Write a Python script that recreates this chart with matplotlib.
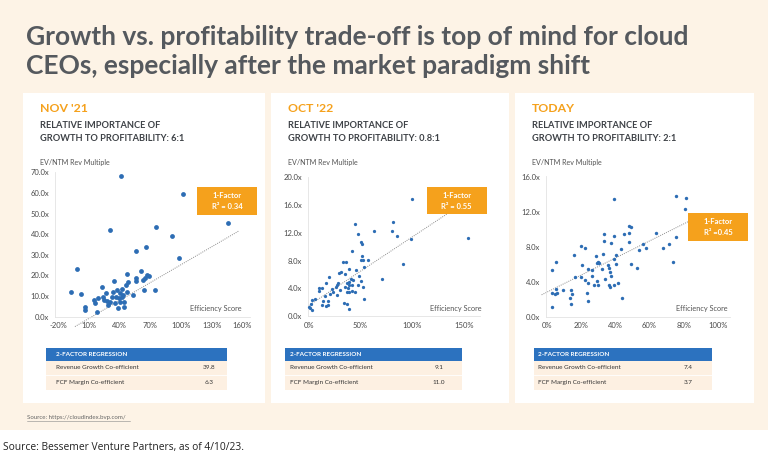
import numpy as np
import matplotlib
matplotlib.use('Agg')
import matplotlib.pyplot as plt
from matplotlib.patches import Rectangle
from matplotlib.lines import Line2D

W, H = 768, 461

title_lines = ['Growth vs. profitability trade-off is top of mind for cloud',
               'CEOs, especially after the market paradigm shift']

panel_names = ["NOV '21", "OCT '22", 'TODAY']
panel_ratios = ['6:1', '0.8:1', '2:1']
r2_labels = ['R\u00b2 = 0.34', 'R\u00b2 = 0.55', 'R\u00b2 =0.45']
growth_coef = ['39.8', '9.1', '7.4']
fcf_coef = ['6.3', '11.0', '3.7']

nov21_xticks = [-20, 10, 40, 70, 100, 130, 160]
nov21_yticks = [0, 10, 20, 30, 40, 50, 60, 70]
oct22_xticks = [0, 50, 100, 150]
oct22_yticks = [0, 4, 8, 12, 16, 20]
today_xticks = [0, 20, 40, 60, 80, 100]
today_yticks = [0, 4, 8, 12, 16]

# (efficiency score %, EV/NTM multiple)
nov21_points = [
    (41.4, 68.2), (30.6, 41.9), (56.0, 32.0), (65.8, 34.0), (-1.7, 23.1),
    (-7.6, 12.0), (1.9, 10.8), (6.1, 4.9), (6.4, 3.2), (17.6, 2.4),
    (15.0, 8.1), (16.0, 6.4), (19.2, 8.9), (22.4, 14.2), (25.0, 8.1),
    (29.0, 5.7), (30.6, 7.3), (33.9, 12.1), (34.2, 17.5), (35.5, 6.4),
    (38.1, 4.4), (37.1, 12.9), (39.4, 8.9), (40.4, 11.3), (42.0, 13.4),
    (43.7, 10.5), (44.6, 7.3), (44.6, 4.9), (46.3, 15.4), (47.6, 12.1),
    (48.5, 16.7), (46.9, 20.5), (53.4, 10.5), (56.0, 18.6), (56.0, 17.3),
    (60.9, 22.2), (63.9, 12.9), (26.6, 11.3), (32.2, 9.7), (36.4, 9.7),
    (40.4, 7.3), (42.3, 9.7), (28.0, 7.6), (24.0, 9.7), (101.7, 59.3),
    (146.3, 45.3), (75.6, 43.3), (91.5, 39.1), (97.8, 28.3), (67.1, 20.2),
    (69.0, 19.9), (65.0, 18.6), (63.2, 17.8), (74.3, 12.8),
]
oct22_points = [
    (45.0, 13.3), (47.6, 11.8), (50.5, 10.7), (51.8, 10.4), (42.1, 9.4),
    (62.7, 12.2), (81.6, 13.6), (80.6, 12.3), (85.4, 11.5), (51.8, 8.7),
    (50.5, 8.1), (52.8, 8.1), (57.5, 8.1), (53.1, 7.0), (33.2, 7.8),
    (36.4, 7.8), (39.3, 6.8), (31.0, 6.4), (34.8, 6.0), (29.6, 6.2),
    (45.7, 6.6), (48.6, 5.8), (20.0, 5.6), (16.5, 4.7), (13.3, 4.1),
    (10.1, 4.1), (10.1, 3.6), (26.5, 4.2), (27.1, 4.5), (28.7, 4.7),
    (35.4, 4.2), (37.1, 4.8), (39.0, 4.9), (40.9, 5.3), (42.8, 5.2),
    (37.7, 4.0), (39.0, 3.5), (36.8, 3.4), (41.5, 3.6), (44.7, 3.5),
    (39.0, 4.5), (41.5, 4.5), (50.5, 5.1), (47.3, 4.5), (52.8, 4.2),
    (53.7, 2.5), (34.5, 1.9), (36.8, 1.7), (39.3, 1.0), (70.4, 5.3),
    (23.9, 3.4), (27.1, 3.0), (20.7, 3.2), (15.9, 2.9), (14.3, 2.2),
    (19.0, 2.2), (12.6, 1.6), (16.5, 1.4), (19.0, 1.6), (3.7, 2.3),
    (2.4, 1.8), (6.2, 2.5), (1.4, 1.2), (3.0, 0.8), (0.5, 1.3),
    (30.3, 3.7), (23.0, 3.9), (99.8, 16.9), (98.6, 11.1), (90.6, 7.5),
    (153.7, 11.2),
]
today_points = [
    (39.4, 13.4), (75.3, 13.8), (81.6, 13.6), (81.0, 12.3), (75.3, 9.1),
    (74.0, 6.3), (71.3, 8.3), (67.6, 7.9), (63.7, 9.6), (58.0, 7.8),
    (56.3, 8.3), (53.8, 7.6), (52.6, 5.6), (49.3, 6.0), (49.3, 10.3),
    (48.2, 10.4), (48.2, 8.5), (47.8, 9.6), (45.2, 9.5), (39.0, 9.2),
    (40.4, 7.0), (39.4, 6.6), (40.2, 6.0), (43.3, 7.7), (37.5, 8.4),
    (33.6, 9.5), (33.6, 8.7), (32.8, 7.2), (35.9, 5.9), (36.3, 5.6),
    (36.7, 5.1), (36.5, 3.6), (37.1, 3.4), (39.2, 3.6), (41.4, 3.9),
    (43.7, 2.1), (34.0, 4.3), (37.5, 4.6), (32.0, 5.5), (30.7, 6.1),
    (30.1, 6.2), (29.5, 6.1), (28.7, 6.9), (26.6, 4.6), (27.6, 3.6),
    (29.7, 3.6), (29.5, 4.1), (26.2, 5.3), (23.9, 5.4), (22.3, 7.9),
    (20.0, 8.1), (20.4, 5.9), (19.8, 4.5), (22.1, 4.2), (24.3, 3.8),
    (23.3, 2.7), (23.9, 1.8), (15.9, 7.1), (16.5, 4.5), (14.6, 2.6),
    (14.2, 3.1), (13.6, 2.1), (14.0, 1.5), (9.7, 3.0), (5.4, 6.3),
    (2.9, 5.3), (2.9, 2.7), (4.9, 2.6), (5.2, 3.2), (5.8, 2.7),
    (3.3, 1.1),
]

# dotted 1-factor fit, start and end
nov21_trend = [(-3.7, -4.8), (157.1, 41.7)]
oct22_trend = [(0.0, 1.5), (140.0, 15.4)]
today_trend = [(-3.0, 2.5), (83.0, 10.9)]

CREAM = '#fdf3e6'
ORANGE = '#f5a11c'
BLUE = '#2d6db4'
GREY_TXT = '#55595e'
FONT = 'Lato'


def fx(x):
    return x / W


def fy(y):
    return 1 - y / H


def add_rect(fig, x, y, w, h, color, z):
    r = Rectangle((fx(x), fy(y + h)), w / W, h / H, transform=fig.transFigure,
                  facecolor=color, edgecolor='none', zorder=z)
    fig.add_artist(r)


def txt(fig, x, y, s, **kw):
    kw.setdefault('family', FONT)
    kw.setdefault('va', 'center')
    fig.text(fx(x), fy(y), s, **kw)


def draw_panel(fig, i, card, axbox, lims, points, trend, xticks, yticks,
               dot_size, box, eff_right, table):
    cx0, cx1 = card
    add_rect(fig, cx0, 93, cx1 - cx0, 310, 'white', -2)

    tx = cx0 + 17
    txt(fig, tx, 109, panel_names[i], fontsize=8.8, weight='bold', color=ORANGE)
    txt(fig, tx, 125.5, 'RELATIVE IMPORTANCE OF', fontsize=6.7, weight='bold', color='#3e4247')
    txt(fig, tx, 138.5, 'GROWTH TO PROFITABILITY: ' + panel_ratios[i], fontsize=6.7,
        weight='bold', color='#3e4247')
    txt(fig, tx, 162.5, 'EV/NTM Rev Multiple', fontsize=5.1, color='#555555')

    left, top, right, bottom = axbox
    ax = fig.add_axes([fx(left), fy(bottom), (right - left) / W, (bottom - top) / H])
    ax.set_xlim(lims[0], lims[1])
    ax.set_ylim(lims[2], lims[3])
    ax.patch.set_visible(False)
    for s in ['top', 'right']:
        ax.spines[s].set_visible(False)
    for s in ['left', 'bottom']:
        ax.spines[s].set_color('#e3e3e3')
        ax.spines[s].set_linewidth(0.6)
    ax.set_xticks(xticks)
    ax.set_xticklabels([f'{t}%' for t in xticks])
    ax.set_yticks(yticks)
    ax.set_yticklabels([f'{t:.1f}x' for t in yticks])
    ax.tick_params(length=0, labelsize=5.5, labelcolor='#4a4a4a', pad=4)
    for lab in ax.get_xticklabels() + ax.get_yticklabels():
        lab.set_family(FONT)

    pts = np.array(points)
    ax.scatter(pts[:, 0], pts[:, 1], s=dot_size, color=BLUE, linewidths=0, zorder=3,
               clip_on=False)
    tr = np.array(trend)
    ax.plot(tr[:, 0], tr[:, 1], color='#8c8c8c', lw=0.7, ls=(0, (1, 1.2)),
            zorder=2, clip_on=False)

    txt(fig, eff_right, bottom - 8, 'Efficiency Score', fontsize=5.3, color='#555555',
        ha='right')

    bx0, by0, bx1, by1 = box
    add_rect(fig, bx0, by0, bx1 - bx0, by1 - by0, ORANGE, 5)
    bc = (bx0 + bx1) / 2
    txt(fig, bc, by0 + 8.5, '1-Factor', fontsize=5.5, weight='bold', color='white',
        ha='center', zorder=6)
    txt(fig, bc, by0 + 19.5, r2_labels[i], fontsize=5.5, weight='bold', color='white',
        ha='center', zorder=6)

    tx0, tx1, lab_x, val_x = table
    add_rect(fig, tx0, 348.3, tx1 - tx0, 12.4, '#2c72bf', -1)
    add_rect(fig, tx0, 360.7, tx1 - tx0, 29.3, '#fdf0e2', -1)
    fig.add_artist(Line2D([fx(tx0), fx(tx1)], [fy(375.3), fy(375.3)], color='white',
                          lw=0.6, transform=fig.transFigure, zorder=0))
    txt(fig, lab_x, 354.6, '2-FACTOR REGRESSION', fontsize=4.6, weight='bold', color='white')
    txt(fig, lab_x, 367.8, 'Revenue Growth Co-efficient', fontsize=4.6, color='#333333')
    txt(fig, lab_x, 382.8, 'FCF Margin Co-efficient', fontsize=4.6, color='#333333')
    txt(fig, val_x, 367.8, growth_coef[i], fontsize=4.6, color='#333333', ha='center')
    txt(fig, val_x, 382.8, fcf_coef[i], fontsize=4.6, color='#333333', ha='center')


def main():
    fig = plt.figure(figsize=(W / 100, H / 100), dpi=100)
    fig.patch.set_facecolor(CREAM)
    add_rect(fig, 0, 430, W, H - 430, 'white', -3)

    txt(fig, 26, 37, title_lines[0], fontsize=19, weight='bold', color=GREY_TXT)
    txt(fig, 26, 66.5, title_lines[1], fontsize=19, weight='bold', color=GREY_TXT)

    draw_panel(fig, 0, (23, 265), (55, 171.7, 250, 316.7), (-23.2, 167.6, 0, 70.3),
               nov21_points, nov21_trend, nov21_xticks, nov21_yticks, 12,
               (197.3, 187.3, 256.7, 215), 241.7, (45.7, 226.7, 55.7, 209.3))
    draw_panel(fig, 1, (271, 509), (307.5, 176.7, 480, 316), (-1, 165, 0, 20.1),
               oct22_points, oct22_trend, oct22_xticks, oct22_yticks, 5.5,
               (426.7, 186.7, 486.7, 214.3), 481.7, (284.7, 462.3, 289.7, 438.7))
    draw_panel(fig, 2, (515, 754), (545.7, 175.8, 730, 316.7), (-0.6, 107, 0, 16.1),
               today_points, today_trend, today_xticks, today_yticks, 6,
               (688.3, 213.3, 748.3, 241), 728, (534, 711.7, 538.3, 687.7))

    txt(fig, 27, 417.5, 'Source: https://cloudindex.bvp.com/', fontsize=4.4, color='#666666')
    fig.add_artist(Line2D([fx(27), fx(130)], [fy(421), fy(421)], color='#888888', lw=0.4,
                          transform=fig.transFigure))
    txt(fig, 3, 447, 'Source: Bessemer Venture Partners, as of 4/10/23.', fontsize=7.4,
        color='#222222', family='Open Sans')

    plt.savefig('out.png', dpi=100, facecolor=fig.get_facecolor())


if __name__ == '__main__':
    main()
